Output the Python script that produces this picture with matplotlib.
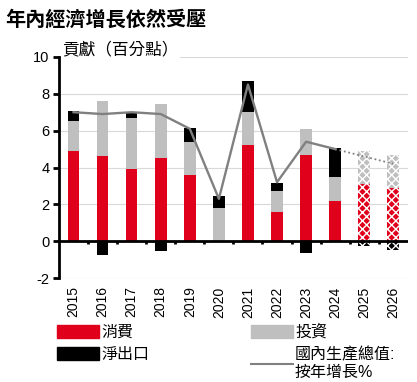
import matplotlib
matplotlib.use("Agg")
import matplotlib.pyplot as plt
import matplotlib.patches as mpatches
import matplotlib.lines as mlines
import numpy as np

plt.rcParams['font.family'] = ['Liberation Sans', 'Noto Sans CJK TC', 'DejaVu Sans']
plt.rcParams['hatch.linewidth'] = 1.0

years = ['2015', '2016', '2017', '2018', '2019', '2020',
         '2021', '2022', '2023', '2024', '2025', '2026']
consumption = [4.9, 4.6, 3.9, 4.5, 3.6, 0.0, 5.2, 1.6, 4.7, 2.2, 3.1, 2.9]
investment = [1.6, 3.0, 2.8, 2.95, 1.8, 1.8, 1.8, 1.1, 1.4, 1.3, 1.8, 1.8]
net_exports = [0.55, -0.73, 0.3, -0.55, 0.75, 0.65, 1.7, 0.45, -0.64, 1.55, -0.27, -0.45]
gdp_actual = [7.0, 6.9, 7.0, 6.9, 6.1, 2.3, 8.5, 3.2, 5.4, 5.0]
gdp_forecast = [5.0, 4.6, 4.2]   # 2024 (actual) then 2025-2026 forecasts
n_forecast = 2

RED = '#E0001B'
GREY = '#BFBFBF'
LINE = '#808080'

fig = plt.figure(figsize=(4.17, 3.82), dpi=100)
ax = fig.add_axes([0.1415, 0.272, 0.8365, 0.579])

x = np.arange(len(years))
w = 0.4
cons = np.array(consumption)
inv = np.array(investment)
net = np.array(net_exports)
n_act = len(years) - n_forecast

for i in x:
    forecast = i >= n_act
    hatch = 'xxxx' if forecast else None
    ec = 'white' if forecast else 'none'
    pos_base = 0.0
    neg_base = 0.0
    for val, col in ((cons[i], RED), (inv[i], GREY), (net[i], 'black')):
        if val >= 0:
            ax.bar(i, val, w, bottom=pos_base, color=col, hatch=hatch,
                   edgecolor=ec, linewidth=0, zorder=2)
            pos_base += val
        else:
            ax.bar(i, val, w, bottom=neg_base, color=col, hatch=hatch,
                   edgecolor=ec, linewidth=0, zorder=2)
            neg_base += val

ax.plot(x[:n_act], gdp_actual, color=LINE, lw=1.7, zorder=3)
ax.plot(x[n_act - 1:], gdp_forecast, color=LINE, lw=1.3, ls=(0, (1, 1.5)), zorder=3)

ax.set_xlim(-0.5, len(years) - 0.5)
ax.set_ylim(-2, 10)
ax.set_yticks([-2, 0, 2, 4, 6, 8, 10])
ax.set_yticklabels(['-2', '0', '2', '4', '6', '8', '10'], fontsize=10.5)
for v in [-2, 2, 4, 6, 8, 10]:
    ax.axhline(v, color='#D9D9D9', lw=0.8, zorder=0)
ax.axhline(0, color='black', lw=2, zorder=4)
ax.vlines(x[:-1] + 0.5, -0.17, 0, color='black', lw=2, zorder=4)

ax.set_xticks(x)
ax.set_xticklabels(years, rotation=90, fontsize=10)
ax.tick_params(axis='x', length=0, pad=6)
ax.tick_params(axis='y', length=4, width=2, direction='out', pad=3)

for s in ['top', 'right', 'bottom']:
    ax.spines[s].set_visible(False)
ax.spines['left'].set_linewidth(2)

ax.text(-0.38, 10.4, '貢獻（百分點）', fontsize=12, va='center', ha='left',
        bbox=dict(facecolor='white', edgecolor='none', pad=1), zorder=5)

fig.text(0.012, 0.975, '年內經濟增長依然受壓', fontsize=14.5, fontweight='bold',
         va='top', ha='left')

# legend, two columns placed separately
leg_kw = dict(loc='upper left', frameon=False, fontsize=11.5, handlelength=2.6,
              handleheight=0.9, handletextpad=0.15, labelspacing=0.45,
              borderaxespad=0, borderpad=0)
leg1 = fig.legend([mpatches.Patch(color=RED), mpatches.Patch(color='black')],
                  ['消費', '淨出口'], bbox_to_anchor=(0.137, 0.15), **leg_kw)
leg2 = fig.legend([mpatches.Patch(color=GREY),
                   mlines.Line2D([], [], color=LINE, lw=1.5)],
                  ['投資', '國內生產總值:\n按年增長%'],
                  bbox_to_anchor=(0.602, 0.15), **leg_kw)

fig.savefig('out.png', dpi=100)
